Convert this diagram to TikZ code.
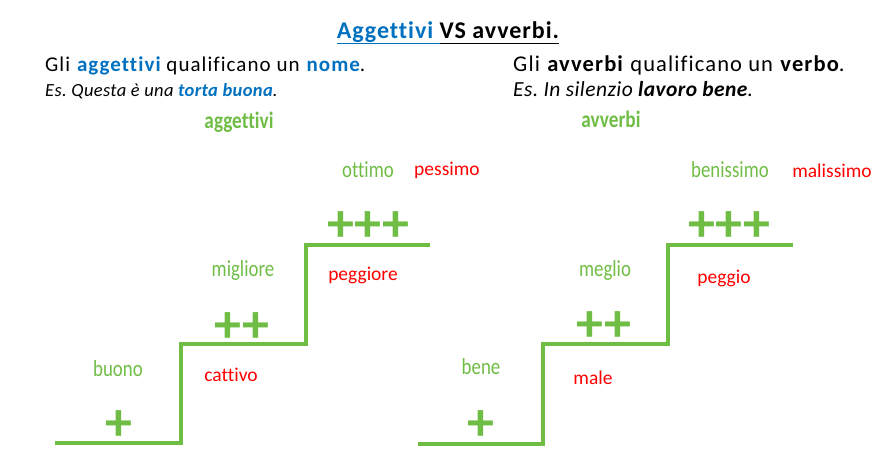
\documentclass[tikz,border=0pt]{standalone}
\usepackage{fontspec}
\setmainfont[Ligatures=NoCommon]{Carlito}
\newfontfamily\condfont[FakeStretch=0.82,Ligatures=NoCommon]{Carlito}
\usetikzlibrary{positioning}
\frenchspacing

\definecolor{verde}{RGB}{112,189,70}
\definecolor{blu}{RGB}{0,112,192}
\definecolor{rosso}{RGB}{255,0,0}

\tikzset{
  gradino/.style={draw=verde, line width=4pt},
  verdelab/.style={text=verde, anchor=base, inner sep=0pt, font=\condfont\fontsize{23}{25}\selectfont},
  titololab/.style={text=verde, anchor=base, inner sep=0pt, font=\condfont\bfseries\fontsize{23.5}{26}\selectfont},
  rossolab/.style={text=rosso, anchor=base, inner sep=0pt, font=\fontsize{19.5}{22}\selectfont},
  piu/.style={text=verde, anchor=base, inner sep=0pt, font=\bfseries\fontsize{54}{54}\selectfont},
  riga/.style={anchor=base west, inner sep=0pt},
}

\begin{document}
\begin{tikzpicture}[x=1pt, y=-1pt]
\useasboundingbox (0,0) rectangle (896,459);

% titolo
\node[anchor=base, inner sep=0pt, font=\bfseries\fontsize{24}{26}\selectfont\addfontfeatures{LetterSpace=4}] (titolo) at (448,38)
  {\textcolor{blu}{\underline{Aggettivi\vphantom{g}\ }}\underline{VS avverbi.\vphantom{g}}};

% definizioni
\node[riga, font=\fontsize{21}{24}\selectfont\addfontfeatures{LetterSpace=5}] (defagg) at (45,71)
  {Gli \textbf{\textcolor{blu}{aggettivi}} qualificano un \textbf{\textcolor{blu}{nome}}.};
\node[riga, font=\itshape\fontsize{18.5}{21}\selectfont\addfontfeatures{LetterSpace=2}] (esagg) at (45,96)
  {Es. Questa è una \textbf{\textcolor{blu}{torta buona}}.};
\node[riga, font=\fontsize{22.5}{25}\selectfont\addfontfeatures{LetterSpace=5}] (defavv) at (513,71)
  {Gli \textbf{avverbi} qualificano un \textbf{verbo}.};
\node[riga, font=\itshape\fontsize{21.5}{24}\selectfont\addfontfeatures{LetterSpace=2}] (esavv) at (513,96)
  {Es. In silenzio \textbf{lavoro bene}.};

% scala aggettivi
\node[titololab] (aggettivi) at (239,128) {aggettivi};
\draw[gradino] (55,443) -- (181,443) -- (181,344) -- (306,344) -- (306,245) -- (430,245);
\node[verdelab] (buono) at (118,376) {buono};
\node[piu] (agg1) at (119,440) {+};
\node[rossolab] (cattivo) at (231,381) {cattivo};
\node[verdelab] (migliore) at (243,276) {migliore};
\node[piu] (agg2) at (242,342) {++};
\node[rossolab] (peggiore) at (363,280) {peggiore};
\node[verdelab] (ottimo) at (368,177) {ottimo};
\node[piu] (agg3) at (368,241) {+++};
\node[rossolab] (pessimo) at (447,175) {pessimo};

% scala avverbi
\node[titololab] (avverbi) at (611,127) {avverbi};
\draw[gradino] (418,444) -- (543,444) -- (543,344) -- (668,344) -- (668,245) -- (793,245);
\node[verdelab] (bene) at (481,374) {bene};
\node[piu] (avv1) at (481,440) {+};
\node[rossolab] (male) at (593,384) {male};
\node[verdelab] (meglio) at (605,276) {meglio};
\node[piu] (avv2) at (604,341) {++};
\node[rossolab] (peggio) at (724,283) {peggio};
\node[verdelab] (benissimo) at (730,177) {benissimo};
\node[piu] (avv3) at (729,241) {+++};
\node[rossolab] (malissimo) at (832,177) {malissimo};
\end{tikzpicture}
\end{document}
